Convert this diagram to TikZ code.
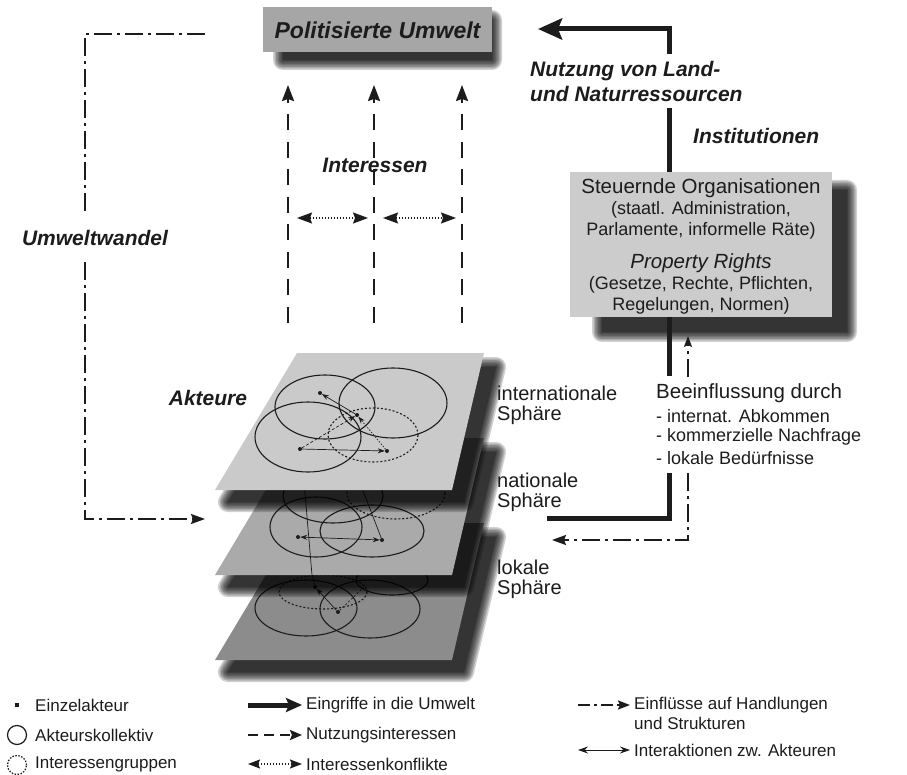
\documentclass[tikz,border=0pt]{standalone}
\usepackage{fontspec}
\setmainfont{Liberation Sans}
\usetikzlibrary{arrows.meta}
\definecolor{boxA}{RGB}{166,166,166}
\definecolor{boxB}{RGB}{204,204,204}
\definecolor{planeA}{RGB}{202,202,202}
\definecolor{planeB}{RGB}{170,170,170}
\definecolor{planeC}{RGB}{140,140,140}
\definecolor{ink}{RGB}{28,28,28}
\newcommand{\softshadow}[1]{\foreach \d in {20,17,14,11,8,5,2,0.1}{\begin{scope}[transparency group, opacity=0.18]\filldraw[black,line width=\d pt,line join=round] #1;\end{scope}}}
\begin{document}
\begin{tikzpicture}[x=1pt,y=-1pt,
  lbl/.style={font=\fontsize{21}{25}\selectfont\bfseries\itshape, text=ink, inner sep=0},
  boxhead/.style={font=\fontsize{20.5}{24}\selectfont, text=ink, inner sep=0},
  boxsub/.style={font=\fontsize{18}{22}\selectfont, text=ink, inner sep=0},
  sph/.style={font=\fontsize{20}{24}\selectfont, text=ink, inner sep=0, anchor=west},
  bee/.style={font=\fontsize{20.5}{24}\selectfont, text=ink, inner sep=0, anchor=west},
  beel/.style={font=\fontsize{18}{22}\selectfont, text=ink, inner sep=0, anchor=west},
  leg/.style={font=\fontsize{17}{20}\selectfont, text=ink, inner sep=0, anchor=west},
  thickln/.style={line width=5pt, draw=ink},
  bighead/.style={-{Stealth[length=24pt,width=21pt,inset=4pt]}},
  nutz/.style={line width=2.2pt, draw=ink, dash pattern=on 16pt off 11.5pt, -{Stealth[length=16pt,width=12pt,inset=2pt]}},
  dd/.style={line width=2pt, draw=ink, dash pattern=on 18pt off 5pt on 3pt off 5pt},
  konf/.style={line width=1.6pt, draw=ink, dash pattern=on 1.5pt off 1.5pt, {Stealth[length=15pt,width=11pt,inset=2pt]}-{Stealth[length=15pt,width=11pt,inset=2pt]}},
  ell/.style={line width=1.1pt, draw=ink},
  dell/.style={line width=1.1pt, draw=ink, dash pattern=on 2pt off 2pt},
  pt/.style={circle, fill=ink, inner sep=0, minimum size=4pt},
  thin/.style={line width=0.7pt, draw=ink},
  sm/.style={-{Stealth[length=7pt,width=5pt]}}
]
\useasboundingbox (0,0) rectangle (907,775);

% ---------- top box
\softshadow{(283,20) rectangle (492,60)}
\node[fill=boxA, minimum width=229pt, minimum height=45pt, inner sep=0] (pu) at (377.5,29.5) {};
\node[lbl, font=\fontsize{23}{27}\selectfont\bfseries\itshape] (putxt) at (377.5,30) {Politisierte Umwelt};

% ---------- right box
\softshadow{(602,190) rectangle (847,332)}
\node[fill=boxB, minimum width=262pt, minimum height=145pt, inner sep=0] (so) at (701,244.5) {};
\node[boxhead] (so1) at (701,188) {Steuernde Organisationen};
\node[boxsub] (so2) at (701,210) {(staatl. Administration,};
\node[boxsub] (so3) at (701,231) {Parlamente, informelle Räte)};
\node[boxhead, font=\fontsize{20.5}{24}\selectfont\itshape] (so4) at (701,263) {Property Rights};
\node[boxsub] (so5) at (701,285) {(Gesetze, Rechte, Pflichten,};
\node[boxsub] (so6) at (701,306) {Regelungen, Normen)};

% ---------- thick arrow to top
\coordinate (t1) at (669,54);
\coordinate (t0) at (669,29);
\coordinate (tip1) at (538,29);
\draw[thickln, bighead] (t1) -- (t0) -- (tip1);
\node[lbl, anchor=west] (nu1) at (530,71) {Nutzung von Land-};
\node[lbl, anchor=west] (nu2) at (530,94) {und Naturressourcen};
\coordinate (t2) at (669,108);
\draw[thickln] (t2) -- (t2 |- so.north);
\node[lbl, anchor=west] (inst) at (693,136) {Institutionen};

% ---------- below right box
\coordinate (t3) at (669,376);
\draw[thickln] (t3 |- so.south) -- (t3);
\coordinate (b1) at (688,377);
\coordinate (b0) at (688,336);
\draw[dd, line width=1.6pt, -{Stealth[length=11pt,width=8pt,inset=2pt]}] (b1) -- (b0);
\node[bee] (be0) at (656,393) {Beeinflussung durch};
\node[beel] (be1) at (656,416) {- internat. Abkommen};
\node[beel] (be2) at (656,437) {- kommerzielle Nachfrage};
\node[beel] (be3) at (656,458) {- lokale Bedürfnisse};
\coordinate (t4) at (669,473);
\coordinate (t5) at (669,518);
\coordinate (t6) at (547,518);
\draw[thickln, line join=miter] (t4) -- (t5) -- (t6);
\coordinate (d4) at (688,473);
\coordinate (d5) at (688,540);
\coordinate (d6) at (552,540);
\draw[dd, -{Stealth[length=14pt,width=10pt,inset=2pt]}] (d4) -- (d5) -- (d6);

% ---------- left loop
\coordinate (l0) at (205,34);
\coordinate (l1) at (85,34);
\coordinate (l2) at (85,214);
\coordinate (l3) at (85,262);
\coordinate (l4) at (85,519);
\coordinate (l5) at (205,519);
\draw[dd] (l0) -- (l1) -- (l2);
\draw[dd, -{Stealth[length=14pt,width=10pt,inset=2pt]}] (l3) -- (l4) -- (l5);
\node[lbl] (uw) at (95,238) {Umweltwandel};

% ---------- Interessen
\foreach \x/\n in {288/a,374/b,462/c}{
  \coordinate (n0\n) at (\x,323);
  \coordinate (n1\n) at (\x,85);
  \draw[nutz] (n0\n) -- (n1\n);
}
\node[lbl] (int) at (375,165) {Interessen};
\coordinate (k1) at (297,218); \coordinate (k2) at (368,218);
\coordinate (k3) at (383,218); \coordinate (k4) at (456,218);
\draw[konf] (k1) -- (k2);
\draw[konf] (k3) -- (k4);

% ---------- local plane
\softshadow{(311,537) -- (496,537) -- (464,672) -- (228,672) -- cycle}
\fill[planeC] (297,523) -- (484,523) -- (452,660) -- (215,660) -- cycle;
\draw[ell] (306,608) ellipse [x radius=51, y radius=28];
\draw[ell] (370,609) ellipse [x radius=50, y radius=29];
\draw[dell] (323,592) ellipse [x radius=44, y radius=17];
\draw[ell] (392,580) ellipse [x radius=36, y radius=15];
\node[pt] (c1) at (315,587) {};
\node[pt] (c2) at (338,612) {};
\draw[thin, sm] (c2) -- (c1);
\coordinate (c3) at (366,585);
\draw[thin, dash pattern=on 2pt off 2pt] (c2) -- (c3);
\coordinate (c4) at (311,568);
\draw[thin] (c4) -- (c1);

% ---------- national plane
\softshadow{(311,452) -- (496,452) -- (464,587) -- (228,587) -- cycle}
\fill[planeB] (297,438) -- (484,438) -- (452,575) -- (215,575) -- cycle;
\draw[ell] (316,527) ellipse [x radius=46, y radius=30];
\draw[ell] (372,531) ellipse [x radius=52, y radius=26];
\draw[ell] (333,496) ellipse [x radius=50, y radius=27];
\draw[dell] (396,493) ellipse [x radius=49, y radius=26];
\node[pt] (b1n) at (298,537) {};
\node[pt] (b2n) at (382,540) {};
\draw[thin, {Stealth[length=7pt,width=5pt]}-{Stealth[length=7pt,width=5pt]}] (b1n) -- (b2n);
\coordinate (b3) at (303,470); \coordinate (b4) at (312,575);
\draw[thin] (b3) -- (b4);
\coordinate (b5) at (362,488);
\draw[thin] (b5) -- (b2n);

% ---------- international plane
\softshadow{(311,367) -- (496,367) -- (464,502) -- (228,502) -- cycle}
\fill[planeA] (297,353) -- (484,353) -- (452,490) -- (215,490) -- cycle;
\draw[ell] (325,407) ellipse [x radius=50, y radius=32];
\draw[ell] (393,403) ellipse [x radius=54, y radius=35];
\draw[ell] (308,437) ellipse [x radius=53, y radius=35];
\draw[dell] (373,435) ellipse [x radius=45, y radius=27];
\node[pt] (p1) at (320,393) {};
\node[pt] (p2) at (357,415) {};
\node[pt] (p3) at (300,449) {};
\node[pt] (p4) at (387,451) {};
\draw[thin, sm] (p2) -- (p1);
\draw[thin, sm, dash pattern=on 3pt off 2pt] (p3) -- (p2);
\draw[thin, sm, dash pattern=on 1.5pt off 1.5pt] (p4) -- (p2);
\draw[thin, sm] (p3) -- (p4);

\node[lbl, anchor=center] (akt) at (208,398) {Akteure};
\node[sph] (s1a) at (497,393) {internationale};
\node[sph] (s1b) at (497,415) {Sphäre};
\node[sph] (s2a) at (497,480) {nationale};
\node[sph] (s2b) at (497,502) {Sphäre};
\node[sph] (s3a) at (497,567) {lokale};
\node[sph] (s3b) at (497,589) {Sphäre};

% ---------- legend
\node[fill=ink, minimum size=4pt, inner sep=0] (g1) at (17,705) {};
\node[leg] (g1t) at (35,705) {Einzelakteur};
\node[circle, draw=ink, line width=1.2pt, minimum size=19pt, inner sep=0] (g2) at (17,735) {};
\node[leg] (g2t) at (35,735) {Akteurskollektiv};
\node[circle, draw=ink, line width=1.2pt, dash pattern=on 1.5pt off 1.5pt, minimum size=19pt, inner sep=0] (g3) at (17,765) {};
\node[leg] (g3t) at (35,764) {Interessengruppen};

\coordinate (h1a) at (248,705); \coordinate (h1b) at (302,705);
\draw[thickln, -{Stealth[length=16pt,width=14pt,inset=3pt]}] (h1a) -- (h1b);
\node[leg] (h1t) at (306,705) {Eingriffe in die Umwelt};
\coordinate (h2a) at (248,735); \coordinate (h2b) at (302,735);
\draw[line width=2.2pt, draw=ink, dash pattern=on 10pt off 6pt, -{Stealth[length=12pt,width=10pt,inset=2pt]}] (h2a) -- (h2b);
\node[leg] (h2t) at (306,735) {Nutzungsinteressen};
\coordinate (h3a) at (248,764); \coordinate (h3b) at (302,764);
\draw[konf, {Stealth[length=12pt,width=9pt,inset=2pt]}-{Stealth[length=12pt,width=9pt,inset=2pt]}] (h3a) -- (h3b);
\node[leg] (h3t) at (306,764) {Interessenkonflikte};

\coordinate (i1a) at (578,705); \coordinate (i1b) at (630,705);
\draw[line width=2pt, draw=ink, dash pattern=on 12pt off 4pt on 3pt off 4pt, -{Stealth[length=12pt,width=9pt,inset=2pt]}] (i1a) -- (i1b);
\node[leg] (i1t) at (634,705) {Einflüsse auf Handlungen};
\node[leg] (i1u) at (634,723) {und Strukturen};
\coordinate (i2a) at (578,750); \coordinate (i2b) at (630,750);
\draw[line width=1pt, draw=ink, {Stealth[length=10pt,width=7pt]}-{Stealth[length=10pt,width=7pt]}] (i2a) -- (i2b);
\node[leg] (i2t) at (634,750) {Interaktionen zw. Akteuren};
\end{tikzpicture}
\end{document}
